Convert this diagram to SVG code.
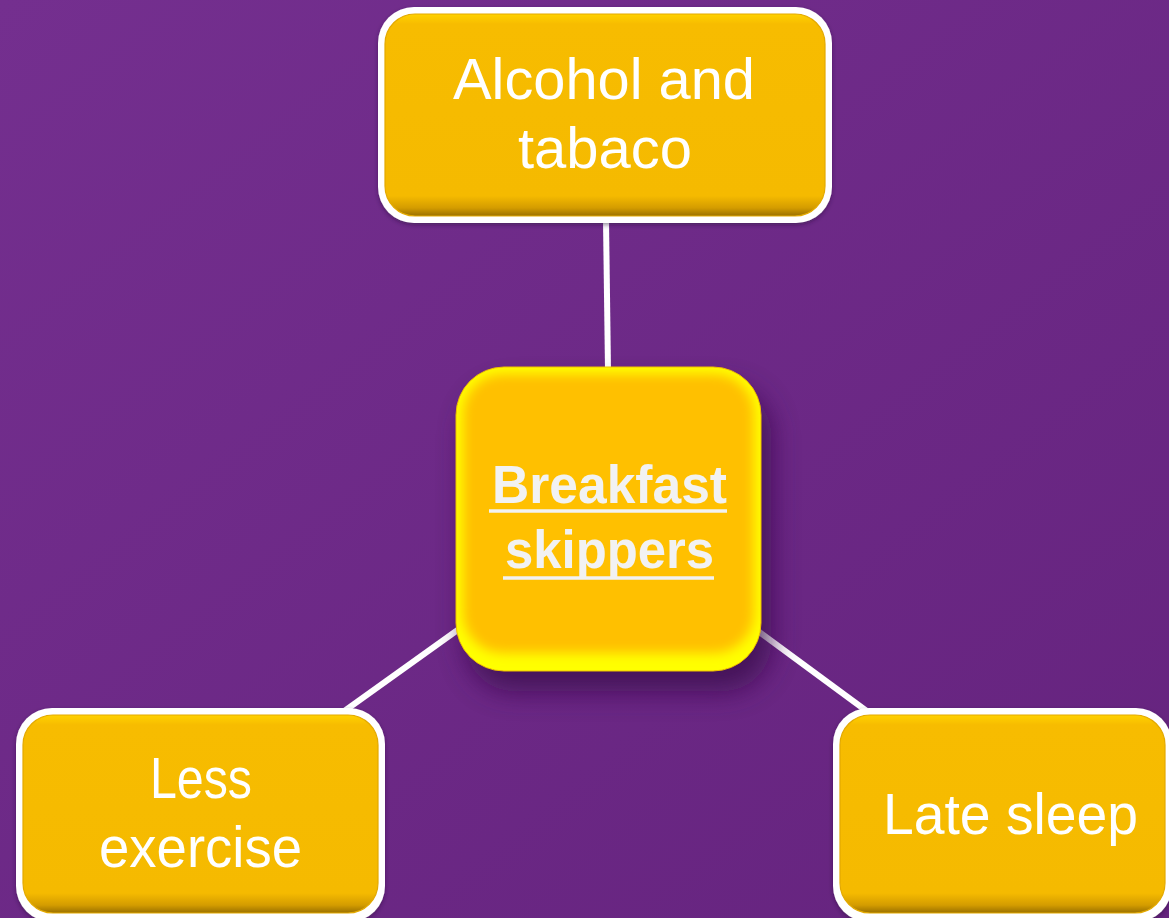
<svg xmlns="http://www.w3.org/2000/svg" width="1169" height="918" viewBox="0 0 1169 918">
  <style>
    .frame { fill: #FFFFFF; }
    .box { fill: url(#bevel); stroke: #E3A900; stroke-width: 1.2; }
    .lbl { font-family: "Liberation Sans", Arial, sans-serif; font-size: 58px; fill: #FFFFFF; text-anchor: middle; }
    .main { font-family: "Liberation Sans", Arial, sans-serif; font-size: 53px; font-weight: bold; fill: #F2F2F2; text-anchor: middle; }
    .uline { stroke: #F2F2F2; stroke-width: 3.5; }
    .conn { stroke: #FFFFFF; stroke-width: 6; fill: none; }
  </style>
  <defs>
    <linearGradient id="bg" x1="0" y1="0" x2="1" y2="1">
      <stop offset="0" stop-color="#742F8F"/>
      <stop offset="1" stop-color="#65237E"/>
    </linearGradient>
    <linearGradient id="bevel" x1="0" y1="0" x2="0" y2="1">
      <stop offset="0" stop-color="#FFD200"/>
      <stop offset="0.05" stop-color="#F7BC00"/>
      <stop offset="0.9" stop-color="#F5BA00"/>
      <stop offset="0.96" stop-color="#D49C00"/>
      <stop offset="1" stop-color="#9A7000"/>
    </linearGradient>
    <filter id="blur5" x="-20%" y="-20%" width="140%" height="140%">
      <feGaussianBlur stdDeviation="6"/>
    </filter>
    <filter id="shadow" x="-30%" y="-30%" width="160%" height="160%">
      <feGaussianBlur stdDeviation="14"/>
    </filter>
    <filter id="frameShadow" x="-10%" y="-10%" width="120%" height="130%">
      <feDropShadow dx="0" dy="2" stdDeviation="2" flood-color="#2A0A3A" flood-opacity="0.5"/>
    </filter>
    <clipPath id="centerClip">
      <rect x="456" y="367" width="305" height="304" rx="48"/>
    </clipPath>
  </defs>

  <rect x="0" y="0" width="1169" height="918" fill="url(#bg)"/>

  <g id="connectors">
    <line class="conn" x1="606" y1="220" x2="608" y2="370"/>
    <line class="conn" x1="459" y1="629" x2="343" y2="712"/>
    <line class="conn" x1="758" y1="631" x2="868" y2="712"/>
  </g>

  <g id="node-alcohol">
    <rect class="frame" x="378" y="7" width="454" height="216" rx="36" filter="url(#frameShadow)"/>
    <rect class="box" x="385" y="14" width="440" height="202" rx="30"/>
    <text class="lbl" x="604" y="99" textLength="302" lengthAdjust="spacingAndGlyphs">Alcohol and</text>
    <text class="lbl" x="605" y="168" textLength="174" lengthAdjust="spacingAndGlyphs">tabaco</text>
  </g>

  <g id="node-center">
    <rect x="466" y="387" width="305" height="304" rx="48" fill="#3A0E4E" opacity="0.8" filter="url(#shadow)"/>
    <g clip-path="url(#centerClip)">
      <rect x="456" y="367" width="305" height="304" rx="48" fill="#FFFF00"/>
      <rect x="463" y="374" width="291" height="279" rx="40" fill="#FFC000" filter="url(#blur5)"/>
    </g>
    <rect x="456" y="367" width="305" height="304" rx="48" fill="none" stroke="#F0C000" stroke-width="1"/>
    <text class="main" x="609.5" y="503" textLength="235" lengthAdjust="spacingAndGlyphs">Breakfast</text>
    <text class="main" x="609.5" y="568" textLength="209" lengthAdjust="spacingAndGlyphs">skippers</text>
    <line class="uline" x1="489" y1="511" x2="727" y2="511"/>
    <line class="uline" x1="503" y1="578" x2="714" y2="578"/>
  </g>

  <g id="node-exercise">
    <rect class="frame" x="16" y="708" width="369" height="214" rx="36" filter="url(#frameShadow)"/>
    <rect class="box" x="23" y="715" width="355" height="198" rx="30"/>
    <text class="lbl" x="201" y="798" textLength="102" lengthAdjust="spacingAndGlyphs">Less</text>
    <text class="lbl" x="200.5" y="867" textLength="203" lengthAdjust="spacingAndGlyphs">exercise</text>
  </g>

  <g id="node-sleep">
    <rect class="frame" x="833" y="708" width="339" height="214" rx="36" filter="url(#frameShadow)"/>
    <rect class="box" x="840" y="715" width="325" height="198" rx="30"/>
    <text class="lbl" x="1010.5" y="834" textLength="255" lengthAdjust="spacingAndGlyphs">Late sleep</text>
  </g>
</svg>
